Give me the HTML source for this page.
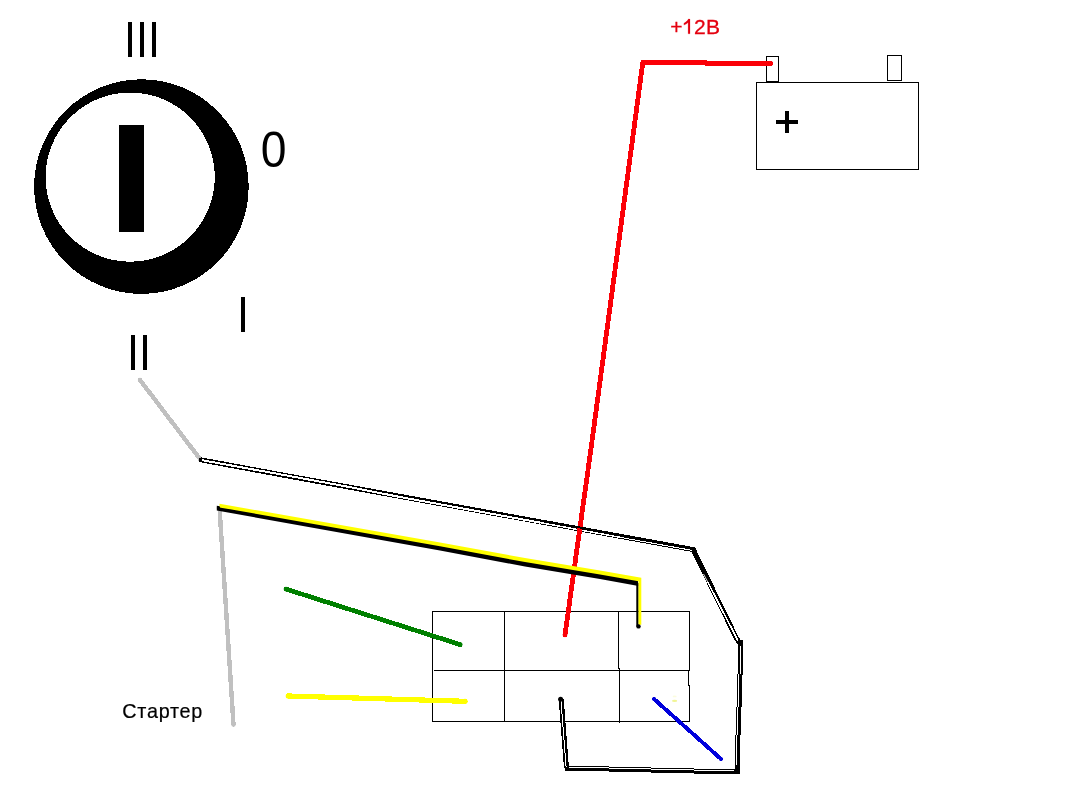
<!DOCTYPE html>
<html>
<head>
<meta charset="utf-8">
<style>
html,body{margin:0;padding:0;background:#fff;}
body{width:1084px;height:794px;overflow:hidden;font-family:"Liberation Sans",sans-serif;}
svg{display:block;}
text{font-family:"Liberation Sans",sans-serif;}
</style>
</head>
<body>
<svg width="1084" height="794" viewBox="0 0 1084 794" style="will-change:transform">
<rect width="1084" height="794" fill="#fff"/>

<!-- ignition switch -->
<g shape-rendering="crispEdges">
<circle cx="141.4" cy="186.6" r="107.3" fill="#000"/>
<circle cx="130.2" cy="177.1" r="84.6" fill="#fff"/>
<rect x="119" y="125" width="25" height="107" fill="#000"/>
<!-- III -->
<rect x="128" y="22" width="4" height="35" fill="#000"/>
<rect x="140" y="22" width="4" height="35" fill="#000"/>
<rect x="152" y="22" width="4" height="35" fill="#000"/>
<!-- I -->
<rect x="241" y="297" width="4" height="35" fill="#000"/>
<!-- II -->
<rect x="131" y="335" width="4" height="35" fill="#000"/>
<rect x="143" y="335" width="4" height="35" fill="#000"/>
</g>
<text transform="translate(260.7,166.9) scale(0.965,1.04)" font-size="48" fill="#000">0</text>

<!-- battery -->
<g shape-rendering="crispEdges" fill="none" stroke="#000" stroke-width="1">
<rect x="756.5" y="82.5" width="162" height="87"/>
<rect x="766.5" y="56.5" width="12" height="25"/>
<rect x="887.5" y="55.5" width="14" height="25"/>
</g>
<g shape-rendering="crispEdges" fill="#000">
<rect x="776" y="120" width="22" height="4"/>
<rect x="785" y="111" width="4" height="22"/>
</g>
<g fill="#e4000f" stroke="#e4000f" stroke-width="0.3" font-size="21">
<text x="670.2" y="33.8">+</text>
<text x="693.9" y="33.8">2</text>
<text x="706.0" y="33.8">В</text>
<path d="M688.1,19.1 L690.0,19.1 L690.0,33.8 L688.1,33.8 L688.1,22.6 C687.0,23.6 685.6,24.5 683.9,25.1 L683.9,23.3 C685.9,22.3 687.5,20.8 688.4,19.1 Z" stroke-width="0.2"/>
</g>

<!-- connector grid -->
<g shape-rendering="crispEdges" fill="#000">
<rect x="432" y="611" width="258" height="1"/>
<rect x="432" y="721" width="258" height="1"/>
<rect x="432" y="611" width="1" height="111"/>
<rect x="434" y="670" width="255" height="1"/>
<rect x="504" y="611" width="1" height="111"/>
<rect x="618" y="611" width="1" height="58"/>
<rect x="619" y="668" width="1" height="55"/>
<rect x="689" y="611" width="1" height="60"/>
<rect x="688" y="670" width="1" height="16"/>
<rect x="689" y="685" width="1" height="37"/>
</g>
<ellipse cx="674.6" cy="700.9" rx="2.6" ry="1.1" fill="#eef27a" opacity="0.8"/><ellipse cx="674.6" cy="696.4" rx="2" ry="0.9" fill="#f4f7a0" opacity="0.35"/>

<!-- grey wires -->
<g fill="none" stroke="#c0c0c0" stroke-width="4.4" stroke-linecap="round" shape-rendering="crispEdges">
<line x1="140" y1="380" x2="200" y2="459"/>
<line x1="219.7" y1="511" x2="233.5" y2="724.6"/>
</g>

<!-- double (white/black) wire from II -->
<g fill="none" stroke-linejoin="round" stroke-linecap="butt" shape-rendering="crispEdges">
<polyline points="200.2,459.7 290,476.4 693.3,549.6 736.8,639 740,643" stroke="#000" stroke-width="5"/>
<circle cx="201.6" cy="460" r="2.5" fill="#000"/>
<polyline points="202,460.2 290,476.07 350,487.16 400,496.98 540,522.58" stroke="#fff" stroke-width="2"/>
<polyline points="540,522.58 620,537.3" stroke="#fff" stroke-width="1.5"/>
<polyline points="620,537.3 692,550.36" stroke="#fff" stroke-width="1"/>
<polyline points="703.5,574 707.7,582" stroke="#fff" stroke-width="0.9"/>
<polyline points="707.7,582 738.1,641" stroke="#fff" stroke-width="1.6"/>
</g>
<g shape-rendering="crispEdges">
<g fill="#000">
<rect x="738" y="640" width="5" height="35"/>
<rect x="737" y="674" width="5" height="33"/>
<rect x="736" y="707" width="5" height="28"/>
<rect x="735" y="735" width="5" height="39"/>
<rect x="565" y="766" width="44" height="5"/>
<rect x="609" y="767" width="42" height="5"/>
<rect x="651" y="768" width="43" height="5"/>
<rect x="694" y="769" width="46" height="5"/>
</g>
<g fill="#fff">
<rect x="740" y="646" width="1" height="28"/>
<rect x="738" y="674" width="1" height="33"/>
<rect x="737" y="707" width="1" height="28"/>
<rect x="736" y="735" width="1" height="30"/>
<rect x="567" y="767" width="42" height="1"/>
<rect x="609" y="768" width="42" height="1"/>
<rect x="651" y="769" width="43" height="1"/>
<rect x="694" y="770" width="40" height="1"/>
</g>
<polyline points="561.2,699 566.5,768" stroke="#000" stroke-width="5" fill="none"/>
<polyline points="561.0,701 566.1,767.5" stroke="#fff" stroke-width="1" fill="none"/>
</g>
<circle cx="560.6" cy="699.2" r="2.5" fill="#000"/>

<!-- red wire -->
<g fill="none" stroke="#fb0007" stroke-width="4.8" stroke-linecap="round" stroke-linejoin="round" shape-rendering="crispEdges">
<polyline points="565,634.8 590.8,450 617.7,250 642.8,62.5"/>
<polyline points="642.8,62.5 706,62.5"/>
<polyline points="706,63.5 770.5,63.5"/>
</g>
<line x1="574" y1="526.45" x2="592" y2="529.72" stroke="#000" stroke-width="2" shape-rendering="crispEdges"/>

<!-- yellow/black wire -->
<polygon points="216.8,505.74 440,545.31 525,561.10 600,573.53 637.8,580.20 638.5,585.94 600,579.06 525,566.46 440,550.48 216.8,510.62" fill="#000"/>
<rect x="636.3" y="583" width="2.3" height="43.5" fill="#000"/>
<polygon points="219.5,503.82 440,542.41 525,558.09 600,570.41 641.3,577.64 641.3,624.8 638.5,624.8 638.5,581.32 600,574.53 525,562.10 440,546.31 219.5,507.41" fill="#ffff00"/>
<circle cx="638.5" cy="626.4" r="2.2" fill="#000"/>
<circle cx="218.5" cy="507.9" r="1.7" fill="#000"/>

<!-- green, yellow, blue -->
<g fill="none" stroke-linecap="round" stroke-width="4.7" shape-rendering="crispEdges">
<line x1="286" y1="589.1" x2="460.2" y2="644.6" stroke="#008000"/>
<line x1="288.3" y1="696" x2="465" y2="701.3" stroke="#ffff00" stroke-width="5.2"/>
<line x1="654.1" y1="699.1" x2="720.9" y2="758.9" stroke="#0000dc" stroke-width="4"/>
</g>

<!-- rounded end caps -->
<g>
<circle cx="565" cy="634.8" r="2.4" fill="#fb0007"/>
<circle cx="770.5" cy="63.5" r="2.4" fill="#fb0007"/>
<circle cx="286" cy="589.1" r="2.35" fill="#008000"/>
<circle cx="460.2" cy="644.6" r="2.35" fill="#008000"/>
<circle cx="288.3" cy="696" r="2.6" fill="#ffff00"/>
<circle cx="465" cy="701.3" r="2.6" fill="#ffff00"/>
<circle cx="654.1" cy="699.1" r="2" fill="#0000dc"/>
<circle cx="720.9" cy="758.9" r="2" fill="#0000dc"/>
<circle cx="140" cy="380" r="2.2" fill="#c0c0c0"/>
<circle cx="233.5" cy="724.6" r="2.2" fill="#c0c0c0"/>
</g>

<text x="122.3" y="717.6" font-size="19.8" letter-spacing="0.75" fill="#000" stroke="#000" stroke-width="0.2">Стартер</text>
</svg>
</body>
</html>
